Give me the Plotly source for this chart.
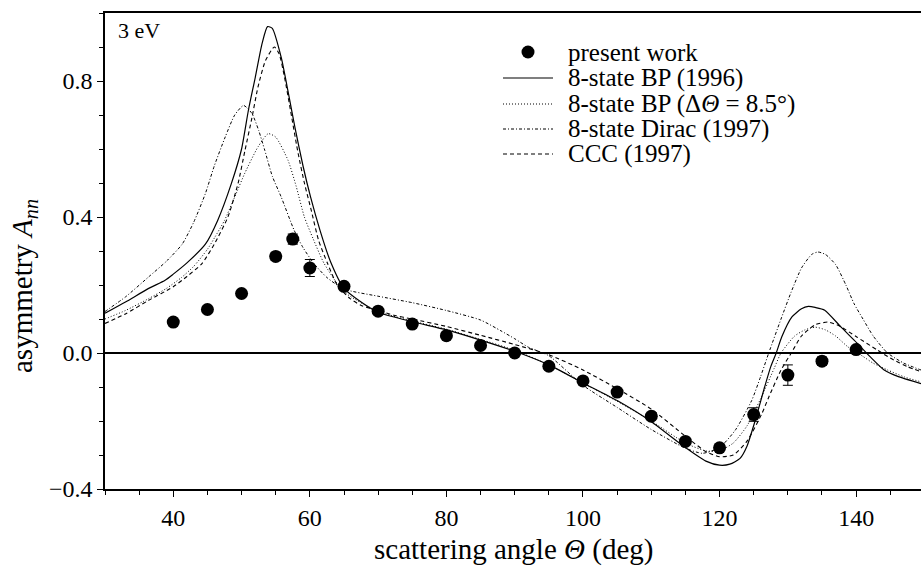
import plotly.graph_objects as go

# measured points (present work)
exp_x = [40, 45, 50, 55, 57.5, 60, 65, 70, 75, 80, 85, 90, 95, 100, 105, 110, 115, 120, 125, 130, 135, 140]
exp_y = [0.091, 0.128, 0.175, 0.284, 0.335, 0.25, 0.196, 0.123, 0.085, 0.051, 0.022, 0.0, -0.039, -0.082,
         -0.115, -0.186, -0.26, -0.279, -0.181, -0.065, -0.024, 0.010]
exp_err = [0.006, 0.006, 0.006, 0.012, 0.015, 0.025, 0.008, 0.006, 0.006, 0.006, 0.006, 0.006, 0.006, 0.006,
           0.006, 0.006, 0.008, 0.008, 0.02, 0.03, 0.012, 0.008]

# 8-state BP (1996)
bp_x = [30, 33, 36.4, 38.8, 40, 42, 44.7, 46.5, 48.5, 50, 51, 52, 53, 53.8, 54.5, 55.8, 56.8, 57.8, 59, 60.1,
        61.5, 63, 65, 67.5, 70, 75, 80, 85, 90, 95, 100, 105, 110, 115, 118, 120, 121.5, 123, 124, 125.2,
        126.6, 127.5, 128.3, 129.1, 130.6, 132, 133, 134, 135.4, 137.8, 140.1, 142, 144.1, 146, 149.5]
bp_y = [0.117, 0.15, 0.19, 0.214, 0.232, 0.265, 0.32, 0.39, 0.498, 0.6, 0.714, 0.81, 0.91, 0.96, 0.955, 0.87,
        0.77, 0.665, 0.55, 0.459, 0.36, 0.27, 0.19, 0.15, 0.12, 0.092, 0.068, 0.038, 0.005, -0.035, -0.088,
        -0.14, -0.202, -0.278, -0.318, -0.33, -0.327, -0.31, -0.275, -0.2, -0.1, -0.04, 0.0, 0.047, 0.106,
        0.13, 0.137, 0.134, 0.126, 0.076, 0.03, -0.01, -0.05, -0.068, -0.09]

# 8-state BP convolved (dTheta = 8.5 deg)
bpc_x = [30, 33, 36.4, 39, 41.2, 43, 45, 46.1, 47.5, 49, 50.5, 52.4, 53.9, 55, 56.8, 58, 59.2, 60.5, 62.1,
         65, 70, 75, 80, 85, 90, 95, 100, 105, 110, 115, 118, 120, 122, 124, 126, 128, 129, 131, 132.5, 134,
         135.5, 137, 138.8, 141, 142.5, 144.6, 147, 149.5]
bpc_y = [0.10, 0.125, 0.16, 0.19, 0.222, 0.255, 0.305, 0.341, 0.39, 0.459, 0.53, 0.606, 0.645, 0.635, 0.567,
         0.49, 0.40, 0.335, 0.263, 0.18, 0.122, 0.094, 0.07, 0.04, 0.008, -0.035, -0.088, -0.142, -0.2,
         -0.265, -0.288, -0.287, -0.265, -0.215, -0.135, -0.045, 0.0, 0.05, 0.068, 0.076, 0.068, 0.05, 0.018,
         -0.01, -0.03, -0.05, -0.07, -0.085]

# 8-state Dirac (1997)
dir_x = [30, 33, 36.4, 39, 41.3, 43, 44.7, 46, 47.6, 49, 50.3, 51.5, 52.5, 53.4, 54.5, 55.8, 57.7, 59, 60.6,
         62.5, 65, 70, 75, 80, 85, 88, 90, 92, 95, 100, 105, 110, 115, 117.5, 120, 122.3, 124.7, 126, 127.2,
         129, 130.5, 132, 133.5, 134.4, 135.5, 137, 138.5, 139.7, 141, 142.5, 144.6, 147, 149.5]
dir_y = [0.122, 0.165, 0.224, 0.27, 0.32, 0.385, 0.469, 0.55, 0.635, 0.70, 0.728, 0.705, 0.655, 0.596, 0.52,
         0.459, 0.361, 0.31, 0.263, 0.222, 0.188, 0.167, 0.148, 0.125, 0.097, 0.065, 0.042, 0.017, -0.008,
         -0.095, -0.16, -0.225, -0.28, -0.295, -0.278, -0.227, -0.14, -0.07, 0.0, 0.1, 0.18, 0.25, 0.29,
         0.297, 0.29, 0.26, 0.2, 0.145, 0.1, 0.05, 0.0, -0.03, -0.05]

# CCC (1997)
ccc_x = [30, 33, 36.4, 40, 42, 44.2, 46, 48, 49.5, 50.5, 51.5, 52.4, 53.5, 54.8, 55.5, 56.3, 57.2, 58.2, 59.2,
         60.2, 61.3, 62.6, 64, 65.9, 67.5, 70, 72.3, 75, 80, 85, 90, 95, 100, 105, 110, 115, 118, 120, 122,
         124, 126.2, 127.2, 129, 130.5, 132, 134, 135.9, 137.5, 140.1, 143, 145, 147.5, 149.5]
ccc_y = [0.087, 0.115, 0.155, 0.195, 0.225, 0.263, 0.32, 0.40, 0.5, 0.596, 0.69, 0.782, 0.86, 0.90, 0.88,
         0.81, 0.71, 0.596, 0.50, 0.42, 0.33, 0.263, 0.2, 0.16, 0.14, 0.125, 0.111, 0.1, 0.078, 0.052, 0.025,
         -0.005, -0.05, -0.105, -0.165, -0.245, -0.29, -0.305, -0.3, -0.26, -0.178, -0.13, -0.05, 0.0, 0.05,
         0.083, 0.091, 0.08, 0.047, 0.01, -0.015, -0.04, -0.055]

series_names = ["present work", "8-state BP (1996)", "8-state BP (Δ<i>Θ</i> = 8.5°)",
                "8-state Dirac (1997)", "CCC (1997)"]

FONT = "Liberation Serif"
W, H = 921, 567
ML, MR, MT, MB = 105, 0, 13, 78
PW, PH = W - ML - MR, H - MT - MB


def px(xpix):
    return (xpix - ML) / PW


def py(ypix):
    return 1 - (ypix - MT) / PH


line_styles = [
    None,
    dict(color="black", width=1.2, dash="solid"),
    dict(color="black", width=1, dash="1px,2px"),
    dict(color="black", width=1, dash="3px,2px,1px,2px"),
    dict(color="black", width=1.1, dash="4px,3px"),
]

fig = go.Figure()
fig.add_trace(go.Scatter(
    x=exp_x, y=exp_y, mode="markers", name=series_names[0],
    marker=dict(color="black", size=13, symbol="circle"),
    error_y=dict(type="data", array=exp_err, visible=True, color="black", thickness=1, width=5),
))
for xs, ys, nm, st in [(bp_x, bp_y, series_names[1], line_styles[1]),
                       (bpc_x, bpc_y, series_names[2], line_styles[2]),
                       (dir_x, dir_y, series_names[3], line_styles[3]),
                       (ccc_x, ccc_y, series_names[4], line_styles[4])]:
    fig.add_trace(go.Scatter(x=xs, y=ys, mode="lines", name=nm,
                             line=dict(st, shape="spline", smoothing=0.6)))

# legend drawn by hand (pixel layout converted to paper coordinates)
rows = [52, 78, 104, 129, 154]
lx0, lx1, ltext = 503, 553, 566
for i, (nm, ry) in enumerate(zip(series_names, rows)):
    if i == 0:
        r = 6.5
        fig.add_shape(type="circle", xref="paper", yref="paper",
                      x0=px(528 - r), x1=px(528 + r), y0=py(ry + r), y1=py(ry - r),
                      fillcolor="black", line=dict(color="black", width=0))
    else:
        st = line_styles[i]
        fig.add_shape(type="line", xref="paper", yref="paper", x0=px(lx0), x1=px(lx1), y0=py(ry), y1=py(ry),
                      line=dict(color=st["color"], width=st["width"], dash=st["dash"]))
    fig.add_annotation(text=nm, xref="paper", yref="paper", x=px(ltext), y=py(ry), xanchor="left",
                       yanchor="middle", showarrow=False, font=dict(family=FONT, size=25, color="black"))

fig.add_annotation(text="3 eV", xref="paper", yref="paper", x=px(116), y=py(31), xanchor="left",
                   yanchor="middle", showarrow=False, font=dict(family=FONT, size=22, color="black"))

# axis titles
fig.add_annotation(text="scattering angle <i>Θ</i> (deg)", xref="paper", yref="paper",
                   x=0.5, y=py(549), xanchor="center", yanchor="middle", showarrow=False,
                   font=dict(family=FONT, size=29, color="black"))
fig.add_annotation(text="asymmetry <i>A</i><sub><i>nn</i></sub>", xref="paper", yref="paper",
                   x=px(24), y=py(286), xanchor="center", yanchor="middle", textangle=-90, showarrow=False,
                   font=dict(family=FONT, size=29, color="black"))

fig.update_layout(
    width=W, height=H,
    margin=dict(l=ML, r=MR, t=MT, b=MB),
    paper_bgcolor="white", plot_bgcolor="white",
    font=dict(family=FONT, size=24, color="black"),
    showlegend=False,
    xaxis=dict(range=[30, 149.5], showline=True, linecolor="black", linewidth=1.5, mirror=True,
               ticks="outside", ticklen=6, tickcolor="black", tickwidth=1.2,
               tickmode="array", tickvals=[40, 60, 80, 100, 120, 140],
               minor=dict(ticks="outside", ticklen=4, tickcolor="black", dtick=5, tick0=30),
               showgrid=False, zeroline=False,
               tickfont=dict(family=FONT, size=24)),
    yaxis=dict(range=[-0.4, 1.0], showline=True, linecolor="black", linewidth=1.5,
               ticks="outside", ticklen=6, tickcolor="black", tickwidth=1.2,
               tickmode="array", tickvals=[-0.4, 0.0, 0.4, 0.8], ticktext=["−0.4", "0.0", "0.4", "0.8"],
               minor=dict(ticks="outside", ticklen=4, tickcolor="black", dtick=0.1, tick0=0),
               showgrid=False, zeroline=True, zerolinecolor="black", zerolinewidth=1.5,
               tickfont=dict(family=FONT, size=24)),
)

fig.write_html("out.html")
